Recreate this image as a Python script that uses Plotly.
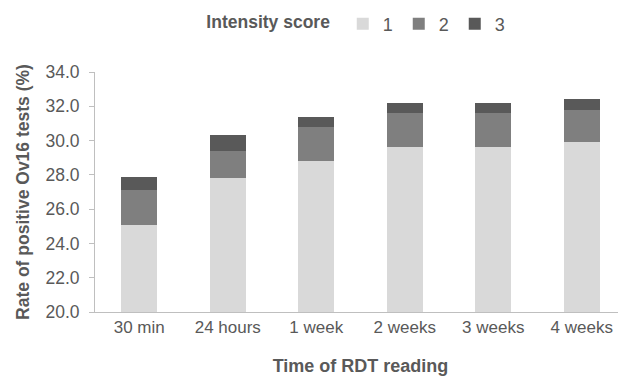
import plotly.graph_objects as go

categories = ["30 min", "24 hours", "1 week", "2 weeks", "3 weeks", "4 weeks"]
score1 = [25.1, 27.8, 28.8, 29.6, 29.6, 29.9]
score2 = [2.0, 1.6, 2.0, 2.0, 2.0, 1.9]
score3 = [0.8, 0.9, 0.6, 0.6, 0.6, 0.6]
y_ticks = [20, 22, 24, 26, 28, 30, 32, 34]

font_family = "Liberation Sans, Arial, sans-serif"
txt = "#595959"

fig = go.Figure()
for name, vals, col in [("1", score1, "#d9d9d9"), ("2", score2, "#7f7f7f"), ("3", score3, "#595959")]:
    fig.add_trace(go.Bar(x=categories, y=vals, name=name, marker=dict(color=col, line=dict(width=0))))

# page body has an 8px default margin, so figure is 618x368 and offsets are reduced by 8
fig.update_layout(
    barmode="stack",
    bargap=0.59,
    width=618, height=368,
    margin=dict(l=87, r=0, t=64, b=64, autoexpand=False),
    paper_bgcolor="white", plot_bgcolor="white",
    font=dict(family=font_family, color=txt, size=17),
    legend=dict(
        orientation="h", x=0.495, xanchor="center", y=1.2, yanchor="middle",
        traceorder="normal",
        title=dict(text="<b>Intensity score</b> ", font=dict(size=17.5, color=txt), side="left"),
        font=dict(size=18, color=txt), entrywidth=11, entrywidthmode="pixels",
    ),
    xaxis=dict(
        showline=True, linecolor="#bfbfbf", linewidth=1, ticks="", automargin=False,
        tickfont=dict(size=17, color=txt),
        title=dict(text="<b>Time of RDT reading</b>", font=dict(size=18, color=txt), standoff=22),
    ),
    yaxis=dict(
        range=[20, 34], tickvals=y_ticks, tickformat=".1f", automargin=False,
        showgrid=False, showline=True, linecolor="#bfbfbf", linewidth=1,
        ticks="outside", ticklen=5, tickcolor="#bfbfbf",
        ticklabelstandoff=6,
        tickfont=dict(size=17.5, color=txt),
        title=dict(text="<b>Rate of positive Ov16 tests (%)</b>", font=dict(size=17.5, color=txt), standoff=11),
        zeroline=False,
    ),
)

fig.write_html("out.html")
